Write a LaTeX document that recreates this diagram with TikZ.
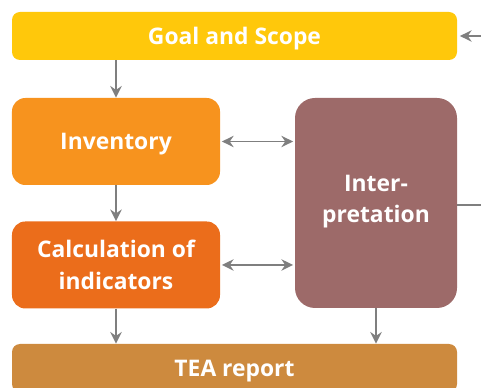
\documentclass[tikz,border=0pt]{standalone}
\usepackage{fontspec}
\setmainfont{Open Sans}
\usepackage{xcolor}
\usetikzlibrary{positioning}
\usetikzlibrary{calc}
\usetikzlibrary{arrows.meta}
\definecolor{goalyellow}{HTML}{FFC80B}
\definecolor{invorange}{HTML}{F7931E}
\definecolor{calcorange}{HTML}{EB6D1B}
\definecolor{interpbrown}{HTML}{9D6A69}
\definecolor{teabrown}{HTML}{CD8A3E}
\definecolor{arrowgray}{HTML}{7F7F7F}

\begin{document}
\begin{tikzpicture}[
			stagenode/.style={rectangle, draw=none, text=white, font=\fontsize{19.5}{27}\selectfont\bfseries, align=center, inner sep=0pt},
			widenode/.style={stagenode, minimum width=13.35cm, minimum height=1.44cm, rounded corners=0.24cm, text depth=0pt},
			boxnode/.style={stagenode, minimum width=6.24cm, minimum height=2.61cm, rounded corners=0.4cm},
			flowline/.style={-{Stealth[length=3.5mm,width=3.4mm]}, draw=arrowgray, line width=1.6pt},
			twoway/.style={{Stealth[length=3.5mm,width=3.4mm]}-{Stealth[length=3.5mm,width=3.4mm]}, draw=arrowgray, line width=1.6pt, shorten >=0.05cm, shorten <=0.05cm},
			]
			\clip (0,0) rectangle (14.43,-11.64);
			\useasboundingbox (0,0) rectangle (14.43,-11.64);
			%Nodes
			\node[widenode, fill=goalyellow] (Goal) at (7.035,-1.08) {Goal and Scope};
			\node[boxnode, fill=invorange, text depth=0pt] (Inventory) at (3.48,-4.245) {Inventory};
			\node[boxnode, fill=calcorange] (Calculation) [below=1.08cm of Inventory] {Calculation of\\indicators};
			\node[stagenode, fill=interpbrown, minimum width=4.86cm, minimum height=6.3cm, rounded corners=0.6cm, text depth=0.25cm] (Interpretation) at (11.28,-6.09) {Inter-\\pretation};
			\node[widenode, fill=teabrown] (Report) at (7.035,-11.04) {TEA report};
			\coordinate (fbLow) at (14.8,-6.15);
			\coordinate (fbHigh) at (14.8,-1.08);

			%Lines
			\draw[flowline] (Goal.south -| Inventory.north) -- (Inventory.north);
			\draw[flowline] (Inventory.south) -- (Calculation.north);
			\draw[flowline] (Calculation.south) -- (Calculation.south |- Report.north);
			\draw[flowline] (Interpretation.south) -- (Interpretation.south |- Report.north);
			\draw[twoway] (Inventory.east) -- (Inventory.east -| Interpretation.west);
			\draw[twoway] (Calculation.east) -- (Calculation.east -| Interpretation.west);
			\draw[flowline, shorten >=0.08cm] (Interpretation.east |- fbLow) -- (fbLow) -- (fbHigh) -- (Goal.east);
		\end{tikzpicture}
\end{document}
